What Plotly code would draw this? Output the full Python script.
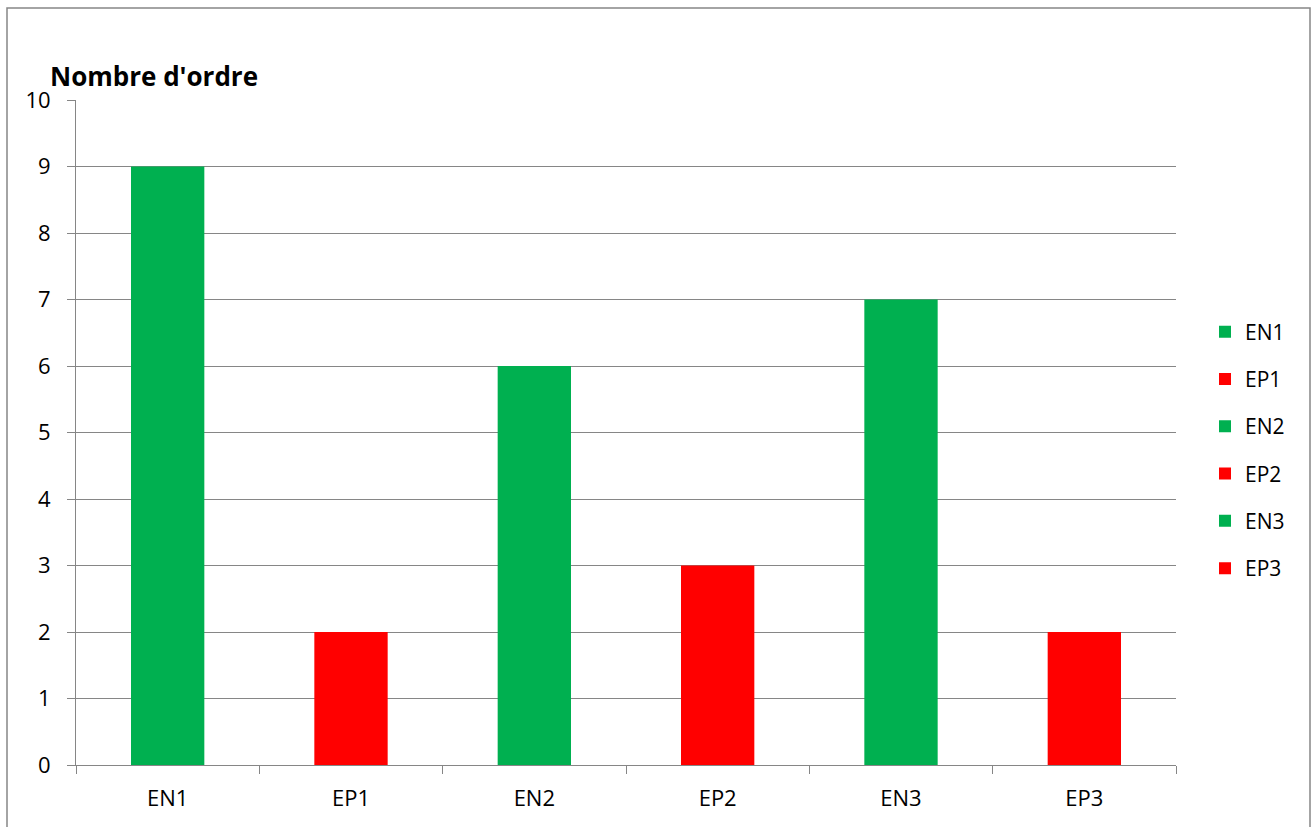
import plotly.graph_objects as go

# Values per category
categories = ["EN1", "EP1", "EN2", "EP2", "EN3", "EP3"]
values = [9, 2, 6, 3, 7, 2]
colors = ["#00B050", "#FF0000", "#00B050", "#FF0000", "#00B050", "#FF0000"]
y_ticks = list(range(0, 11))

W, H = 1312, 827
L, R, T, B = 76, 136, 100, 62
pw, ph = W - L - R, H - T - B

fig = go.Figure()
for cat, val, col in zip(categories, values, colors):
    fig.add_trace(go.Bar(
        x=[cat], y=[val], name=cat, marker=dict(color=col, line=dict(width=0)),
        width=0.4, legendgroup=cat,
    ))

grey = "#868686"
font_family = "'Open Sans', 'Noto Sans', sans-serif"

fig.update_layout(
    width=W, height=H,
    margin=dict(l=L, r=R, t=T, b=B),
    paper_bgcolor="white", plot_bgcolor="white",
    barmode="overlay",
    font=dict(family=font_family, color="black"),
    showlegend=True,
    legend=dict(
        x=1 + 29 / pw, xanchor="left", xref="paper",
        y=0.5 - (450 - 432.5) / ph, yanchor="middle",
        font=dict(size=21, family=font_family), tracegroupgap=17,
        itemwidth=30, bgcolor="rgba(0,0,0,0)",
    ),
    xaxis=dict(
        categoryorder="array", categoryarray=categories,
        showline=True, linecolor=grey, linewidth=1,
        ticks="outside", tickson="boundaries", ticklen=8, tickcolor=grey,
        tickfont=dict(size=22), ticklabelstandoff=14,
        showgrid=False, zeroline=False,
    ),
    yaxis=dict(
        range=[0, 10], tickvals=y_ticks, ticktext=[str(v) for v in y_ticks],
        showline=True, linecolor=grey, linewidth=1,
        ticks="outside", ticklen=8, tickcolor=grey,
        tickfont=dict(size=22), ticklabelstandoff=12,
        showgrid=True, gridcolor=grey, gridwidth=1,
        zeroline=False,
    ),
)

# Chart title
fig.add_annotation(
    text="<b>Nombre d'ordre</b>", xref="paper", yref="paper",
    x=(48 - L) / pw, y=1 + (100 - 76) / ph,
    xanchor="left", yanchor="middle", showarrow=False,
    font=dict(size=26, family=font_family, color="black"),
)

# Outer chart border
fig.add_shape(
    type="rect", xref="paper", yref="paper",
    x0=(7 - L) / pw, x1=(1310 - L) / pw,
    y0=(H - 840 - B) / ph, y1=(H - 8 - B) / ph,
    line=dict(color=grey, width=1.5), fillcolor="rgba(0,0,0,0)", layer="below",
)

fig.write_html("out.html")
